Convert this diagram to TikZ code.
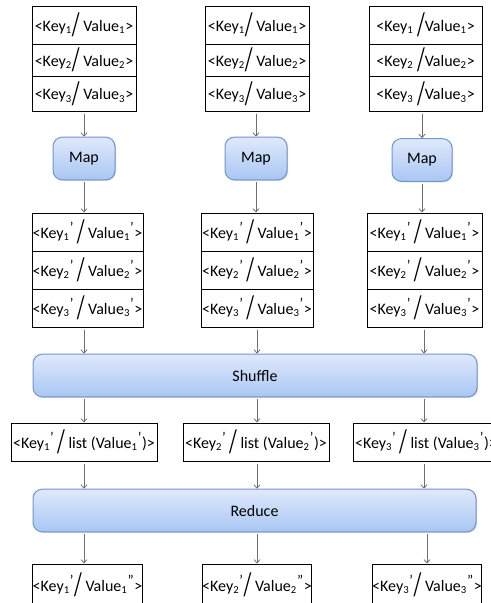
\documentclass[tikz,border=0pt]{standalone}
\usepackage{fontspec}
\usepackage{graphicx}
\setmainfont{Carlito}
\usetikzlibrary{arrows.meta,shadows}
\definecolor{boxtop}{HTML}{DFE9FB}
\definecolor{boxbot}{HTML}{A9C6F3}
\definecolor{boxline}{HTML}{7196D0}
\definecolor{flowgray}{HTML}{6E6E6E}
\newcommand{\ix}[1]{\textsubscript{#1}}
\newcommand{\pr}{\textsuperscript{\fontsize{11}{11}\selectfont'}}
\newcommand{\dpr}{\textsuperscript{\fontsize{11}{11}\selectfont''}}
\newcommand{\sla}{\raisebox{-0.55ex}{\scalebox{1.25}[2.05]{/}}}
\begin{document}
\begin{tikzpicture}[x=0.75pt,y=-0.75pt,font=\fontsize{12}{14}\selectfont]
\tikzstyle{kv} = [draw,line width=0.75pt,inner sep=0pt,minimum height=28.5pt]
\tikzstyle{proc} = [draw=boxline,line width=0.75pt,rounded corners=7pt,top color=boxtop,bottom color=boxbot,
  drop shadow={opacity=0.35,shadow xshift=0.8pt,shadow yshift=-0.8pt},minimum height=32pt,inner sep=0pt]
\tikzstyle{flow} = [draw=flowgray,line width=0.6pt,-{Straight Barb[length=2.5pt,width=4.5pt]},shorten <=1.5pt]
\useasboundingbox (0,0) rectangle (491,603);
\clip (0,0) rectangle (491,603);
% column axes
\coordinate (c1) at (84,0);
\coordinate (c2) at (257,0);
\coordinate (c3) at (424,0);
% input pairs
\node[kv,minimum width=78pt,minimum height=28.5pt] (k11) at (84,25) {<Key\ix1\sla\ Value\ix1>};
\node[kv,minimum width=78pt,minimum height=24pt] (k12) at (84,60) {<Key\ix2\sla\ Value\ix2>};
\node[kv,minimum width=78pt,minimum height=26.25pt] (k13) at (84,93.5) {<Key\ix3\sla\ Value\ix3>};
\node[kv,minimum width=78pt,minimum height=28.5pt] (k21) at (257,25) {<Key\ix1\sla\ Value\ix1>};
\node[kv,minimum width=78pt,minimum height=24pt] (k22) at (257,60) {<Key\ix2\sla\ Value\ix2>};
\node[kv,minimum width=78pt,minimum height=26.25pt] (k23) at (257,93.5) {<Key\ix3\sla\ Value\ix3>};
\node[kv,minimum width=84.75pt,minimum height=28.5pt] (k31) at (425.5,25) {<Key\ix1 \sla Value\ix1>};
\node[kv,minimum width=84.75pt,minimum height=24pt] (k32) at (425.5,60) {<Key\ix2 \sla Value\ix2>};
\node[kv,minimum width=84.75pt,minimum height=26.25pt] (k33) at (425.5,93.5) {<Key\ix3 \sla Value\ix3>};
% map tasks
\node[proc,minimum width=46.5pt] (m1) at (84,158.5) {Map};
\node[proc,minimum width=46.5pt] (m2) at (256,158.5) {Map};
\node[proc,minimum width=45pt] (m3) at (422,160) {Map};
% intermediate pairs
\node[kv,minimum width=83.25pt] (v11) at (87.5,232) {<Key\ix1\pr\,\sla\ Value\ix1\pr>};
\node[kv,minimum width=83.25pt] (v12) at (87.5,270) {<Key\ix2\pr\,\sla\ Value\ix2\pr>};
\node[kv,minimum width=83.25pt] (v13) at (87.5,308) {<Key\ix3\pr\,\sla\ Value\ix3\pr>};
\node[kv,minimum width=84pt] (v21) at (257,232) {<Key\ix1\pr\,\sla\ Value\ix1\pr>};
\node[kv,minimum width=84pt] (v22) at (257,270) {<Key\ix2\pr\,\sla\ Value\ix2\pr>};
\node[kv,minimum width=84pt] (v23) at (257,308) {<Key\ix3\pr\,\sla\ Value\ix3\pr>};
\node[kv,minimum width=86.25pt] (v31) at (424.5,232) {<Key\ix1\pr\,\sla\ Value\ix1\pr>};
\node[kv,minimum width=86.25pt] (v32) at (424.5,270) {<Key\ix2\pr\,\sla\ Value\ix2\pr>};
\node[kv,minimum width=86.25pt] (v33) at (424.5,308) {<Key\ix3\pr\,\sla\ Value\ix3\pr>};
\node[proc,minimum width=333pt] (shuffle) at (255,375.5) {Shuffle};
% grouped lists
\node[kv,minimum width=109.5pt] (l1) at (84,442) {<Key\ix1\pr\,\sla\ list (Value\ix1\pr)>};
\node[kv,minimum width=109.5pt] (l2) at (256,442) {<Key\ix2\pr\,\sla\ list (Value\ix2\pr)>};
\node[kv,minimum width=109.5pt] (l3) at (426,442) {<Key\ix3\pr\,\sla\ list (Value\ix3\pr)>};
\node[proc,minimum width=332.25pt] (reduce) at (254.5,510.5) {Reduce};
% output pairs
\node[kv,minimum width=81.75pt,minimum height=31.5pt] (o1) at (87.5,585) {<Key\ix1\pr\sla\ Value\ix1\dpr>};
\node[kv,minimum width=81pt,minimum height=31.5pt] (o2) at (257,585) {<Key\ix2\pr\sla\ Value\ix2\dpr>};
\node[kv,minimum width=76.5pt,minimum height=31.5pt] (o3) at (427,585) {<Key\ix3\pr\sla\ Value\ix3\dpr>};
% arrows
\draw[flow] (k13.south -| m1) -- (m1.north);
\draw[flow] (k23.south -| m2) -- (m2.north);
\draw[flow] (k33.south -| m3) -- (m3.north);
\draw[flow] (m1.south) -- (v11.north -| m1);
\draw[flow] (m2.south) -- (v21.north -| m2);
\draw[flow] (m3.south) -- (v31.north -| m3);
\draw[flow] (v13.south -| c1) -- (shuffle.north -| c1);
\draw[flow] (v23.south -| c2) -- (shuffle.north -| c2);
\draw[flow] (v33.south -| c3) -- (shuffle.north -| c3);
\draw[flow] (shuffle.south -| c1) -- (l1.north -| c1);
\draw[flow] (shuffle.south -| c2) -- (l2.north -| c2);
\draw[flow] (shuffle.south -| c3) -- (l3.north -| c3);
\draw[flow] (l1.south -| c1) -- (reduce.north -| c1);
\draw[flow] (l2.south -| c2) -- (reduce.north -| c2);
\draw[flow] (l3.south -| c3) -- (reduce.north -| c3);
\draw[flow] (reduce.south -| c1) -- (o1.north -| c1);
\draw[flow] (reduce.south -| c2) -- (o2.north -| c2);
\draw[flow] (reduce.south -| o3) -- (o3.north);
\end{tikzpicture}
\end{document}
